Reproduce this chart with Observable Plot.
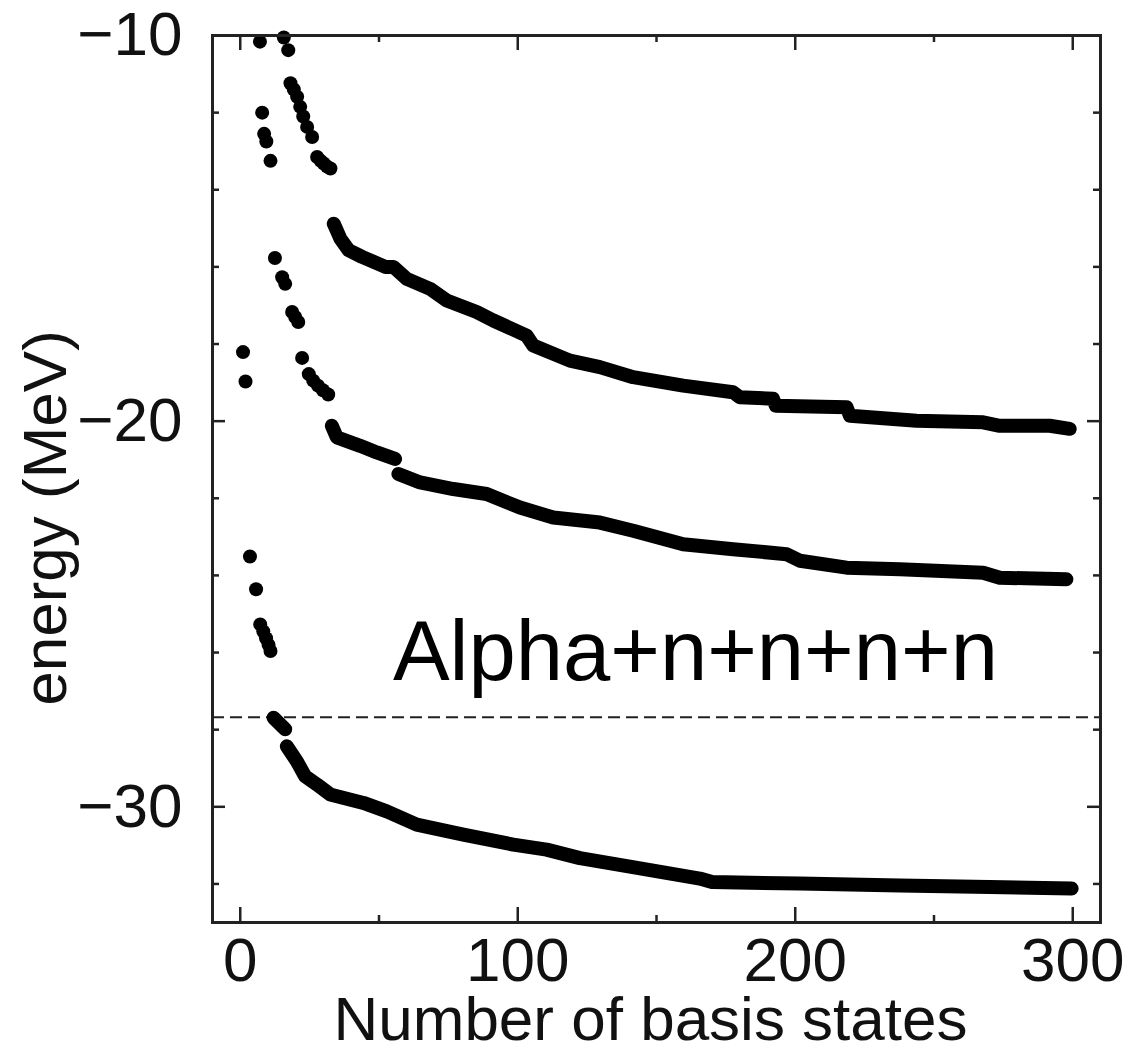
<!DOCTYPE html>
<html><head><meta charset="utf-8">
<script src="https://cdn.jsdelivr.net/npm/d3@7"></script>
<script src="https://cdn.jsdelivr.net/npm/@observablehq/plot@0.6"></script>
<style>
body{margin:0;background:#fff;}
#chart svg{font-family:"Liberation Sans",Arial,Helvetica,sans-serif;}
</style>
</head><body><div id="chart"></div>
<script>
// ---- tick values / labels ----
const xMajorTicks = [0, 100, 200, 300];
const xMinorTicks = [50, 150, 250];
const yMajorTicks = [-10, -20, -30];
const yMinorTicks = [-12, -14, -16, -18, -22, -24, -26, -28, -32];
const xTitle = "Number of basis states";
const yTitle = "energy (MeV)";
const annotText = "Alpha+n+n+n+n";
const annotX = 55, annotY = -26.0;
const thresholdEnergy = -27.68;

// ---- isolated early eigenvalues (few basis states) ----
const earlyX = [1.0, 1.9, 3.5, 5.7, 7.2, 8.3, 9.3, 10.2, 10.9,
                7.1, 7.9, 8.6, 9.4, 10.9,
                12.5, 15.1, 16.2, 18.7, 19.8, 20.9,
                22.3, 24.7, 26.3, 28.0, 29.8, 31.7,
                15.7, 17.3,
                18.1, 19.3, 20.5, 21.6, 22.7, 24.1, 25.9, 27.7, 29.0, 30.1, 31.3, 32.5];
const earlyY = [-18.21, -18.97, -23.51, -24.36, -25.27, -25.45, -25.63, -25.80, -25.96,
                -10.16, -12.00, -12.55, -12.75, -13.25,
                -15.77, -16.27, -16.44, -17.17, -17.30, -17.43,
                -18.36, -18.78, -18.95, -19.08, -19.20, -19.31,
                -10.05, -10.38,
                -11.24, -11.40, -11.59, -11.85, -12.10, -12.37, -12.63, -13.15, -13.25, -13.32, -13.40, -13.45];

// ---- lowest level (below threshold) ----
const lowX = [12.0, 16.2, 16.8, 20.4, 23.4, 27.6, 32.4, 44.4, 52.8, 63.6, 80.4, 98.4, 110.4, 122.4, 140.4, 165.6, 170.0, 201.7, 237.7, 270.0, 299.6];
const lowY = [-27.69, -27.99, -28.43, -28.82, -29.21, -29.42, -29.68, -29.90, -30.12, -30.46, -30.72, -30.98, -31.11, -31.33, -31.55, -31.86, -31.95, -31.99, -32.04, -32.08, -32.12];
const lowRun = [0, 0, 1, 1, 1, 1, 1, 1, 1, 1, 1, 1, 1, 1, 1, 1, 1, 1, 1, 1, 1];

// ---- middle level ----
const midX = [33.0, 34.8, 43.2, 49.2, 55.8, 57.0, 64.8, 76.8, 88.8, 100.8, 112.8, 129.6, 141.6, 159.6, 177.6, 196.9, 201.7, 218.5, 237.7, 267.7, 273.7, 297.7];
const midY = [-20.12, -20.42, -20.64, -20.81, -20.98, -21.37, -21.59, -21.76, -21.89, -22.24, -22.50, -22.63, -22.84, -23.19, -23.32, -23.45, -23.62, -23.80, -23.84, -23.93, -24.06, -24.10];
const midRun = [0, 0, 0, 0, 0, 1, 1, 1, 1, 1, 1, 1, 1, 1, 1, 1, 1, 1, 1, 1, 1, 1];

// ---- upper level ----
const upX = [33.7, 36.1, 39.1, 43.9, 52.3, 55.2, 60.0, 68.4, 74.4, 85.2, 91.2, 103.2, 105.6, 118.8, 129.6, 141.6, 159.6, 177.6, 180.0, 192.0, 193.0, 218.5, 219.7, 243.7, 267.7, 273.7, 291.7, 298.9];
const upY = [-14.88, -15.27, -15.57, -15.74, -16.00, -16.00, -16.31, -16.57, -16.87, -17.17, -17.39, -17.78, -18.04, -18.43, -18.60, -18.86, -19.08, -19.25, -19.38, -19.42, -19.60, -19.64, -19.86, -19.99, -20.03, -20.12, -20.12, -20.20];

// ---- build tables ----
const early = earlyX.map((x, i) => ({x, y: earlyY[i]}));
const curves = [
  ...lowX.map((x, i) => ({x, y: lowY[i], run: "low" + lowRun[i]})),
  ...midX.map((x, i) => ({x, y: midY[i], run: "mid" + midRun[i]})),
  ...upX.map((x, i) => ({x, y: upY[i], run: "up"}))
];

const W = 1131, H = 1055;
const mL = 212, mR = 31, mT = 35, mB = 133;
const fw = W - mL - mR, fh = H - mT - mB;
const ink = "#111";
const fmt = d => d < 0 ? "\u2212" + Math.abs(d) : String(d);

const chart = Plot.plot({
  width: W, height: H,
  marginLeft: mL, marginRight: mR, marginTop: mT, marginBottom: mB,
  x: {domain: [-10, 310], axis: null},
  y: {domain: [-33, -10], axis: null},
  marks: [
    Plot.ruleY([thresholdEnergy], {stroke: "#222", strokeWidth: 2, strokeDasharray: "12,6"}),
    Plot.line(curves, {x: "x", y: "y", z: "run", stroke: "#000", strokeWidth: 14, strokeLinecap: "round", strokeLinejoin: "round"}),
    Plot.dot(early, {x: "x", y: "y", r: 7, fill: "#000", stroke: "none"}),
    // inward ticks
    Plot.tickX(xMajorTicks, {x: d => d, stroke: "#222", strokeWidth: 2.5, insetTop: fh - 15}),
    Plot.tickX(xMajorTicks, {x: d => d, stroke: "#222", strokeWidth: 2.5, insetBottom: fh - 15}),
    Plot.tickX(xMinorTicks, {x: d => d, stroke: "#222", strokeWidth: 2.5, insetTop: fh - 7}),
    Plot.tickX(xMinorTicks, {x: d => d, stroke: "#222", strokeWidth: 2.5, insetBottom: fh - 7}),
    Plot.tickY(yMajorTicks, {y: d => d, stroke: "#222", strokeWidth: 2.5, insetRight: fw - 13}),
    Plot.tickY(yMajorTicks, {y: d => d, stroke: "#222", strokeWidth: 2.5, insetLeft: fw - 13}),
    Plot.tickY(yMinorTicks, {y: d => d, stroke: "#222", strokeWidth: 2.5, insetRight: fw - 7}),
    Plot.tickY(yMinorTicks, {y: d => d, stroke: "#222", strokeWidth: 2.5, insetLeft: fw - 7}),
    Plot.frame({stroke: "#222", strokeWidth: 3}),
    // tick labels
    Plot.text(xMajorTicks, {x: d => d, frameAnchor: "bottom", lineAnchor: "middle", textAnchor: "middle", dy: 39, text: fmt, fontSize: 62, fill: ink}),
    Plot.text(yMajorTicks, {y: d => d, frameAnchor: "left", lineAnchor: "middle", textAnchor: "end", dx: -30, text: fmt, fontSize: 62, fill: ink}),
    // axis titles
    Plot.text([xTitle], {frameAnchor: "bottom", lineAnchor: "middle", textAnchor: "middle", dx: -6, dy: 98, fontSize: 62, fill: ink}),
    Plot.text([yTitle], {frameAnchor: "left", lineAnchor: "middle", textAnchor: "middle", rotate: -90, dx: -166, dy: 39, fontSize: 62, fill: ink}),
    // annotation
    Plot.text([annotText], {x: () => annotX, y: () => annotY, textAnchor: "start", fontSize: 85, fill: "#000"})
  ]
});
document.getElementById("chart").appendChild(chart);
</script>
</body></html>
